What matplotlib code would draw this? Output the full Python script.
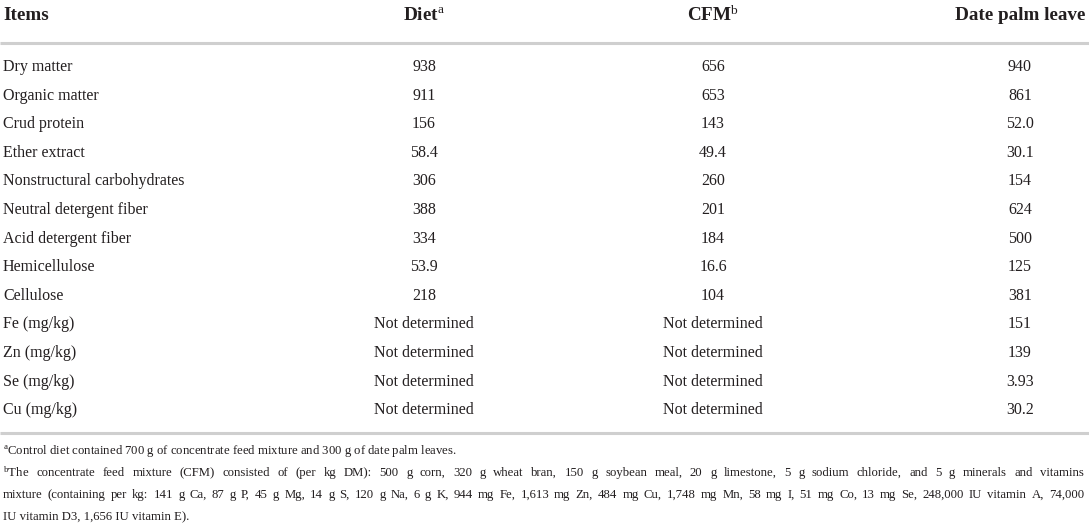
import matplotlib
matplotlib.use("Agg")
import matplotlib.pyplot as plt

plt.rcParams['font.family'] = ['Liberation Serif', 'DejaVu Serif']
plt.rcParams['mathtext.fontset'] = 'custom'
plt.rcParams['mathtext.rm'] = 'Liberation Serif'
plt.rcParams['mathtext.it'] = 'Liberation Serif:italic'
plt.rcParams['mathtext.bf'] = 'Liberation Serif:bold'

# table content
headers = ["Items", r"Diet$^{\mathrm{a}}$", r"CFM$^{\mathrm{b}}$", "Date palm leave"]
items = ["Dry matter", "Organic matter", "Crud protein", "Ether extract",
         "Nonstructural carbohydrates", "Neutral detergent fiber",
         "Acid detergent fiber", "Hemicellulose", "Cellulose",
         "Fe (mg/kg)", "Zn (mg/kg)", "Se (mg/kg)", "Cu (mg/kg)"]
nd = "Not determined"
diet = ["938", "911", "156", "58.4", "306", "388", "334", "53.9", "218", nd, nd, nd, nd]
cfm = ["656", "653", "143", "49.4", "260", "201", "184", "16.6", "104", nd, nd, nd, nd]
date_palm = ["940", "861", "52.0", "30.1", "154", "624", "500", "125", "381",
             "151", "139", "3.93", "30.2"]
footnotes = [
    r"$^{\mathrm{a}}$Control diet contained 700 g of concentrate feed mixture and 300 g of date palm leaves.",
    r"$^{\mathrm{b}}$The concentrate feed mixture (CFM) consisted of (per kg DM): 500 g corn, 320 g wheat bran, "
    "150 g soybean meal, 20 g limestone, 5 g sodium chloride, and 5 g minerals and vitamins",
    "mixture (containing per kg: 141 g Ca, 87 g P, 45 g Mg, 14 g S, 120 g Na, 6 g K, 944 mg Fe, 1,613 mg Zn, "
    "484 mg Cu, 1,748 mg Mn, 58 mg I, 51 mg Co, 13 mg Se, 248,000 IU vitamin A, 74,000",
    "IU vitamin D3, 1,656 IU vitamin E).",
]
justified = [False, True, True, False]

W, H = 1089, 524
fig = plt.figure(figsize=(W / 100, H / 100), dpi=100)
ax = fig.add_axes([0, 0, 1, 1])
ax.set_xlim(0, W)
ax.set_ylim(H, 0)
ax.axis("off")

ink = "#231f20"
rule = "#cfcfcf"
col_x = [3, 424, 713, 1020]
row_y0, row_dy = 67, 28.6
fs_body = 11.5
fs_head = 13.8
fs_foot = 9.2

ax.text(col_x[0], 15, headers[0], fontsize=fs_head, fontweight="bold", color=ink, va="center", ha="left")
for x, h in zip(col_x[1:], headers[1:]):
    ax.text(x, 15, h, fontsize=fs_head, fontweight="bold", color=ink, va="center", ha="center")

ax.plot([0, W], [43, 43], color=rule, lw=2.2, solid_capstyle="butt")

for i, name in enumerate(items):
    y = row_y0 + i * row_dy
    ax.text(col_x[0], y, name, fontsize=fs_body, color=ink, va="center", ha="left")
    for x, vals in zip(col_x[1:], [diet, cfm, date_palm]):
        ax.text(x, y, vals[i], fontsize=fs_body, color=ink, va="center", ha="center")

ax.plot([0, W], [433, 433], color=rule, lw=2.2, solid_capstyle="butt")

# footnotes, the long lines justified like the journal layout
fig.canvas.draw()
renderer = fig.canvas.get_renderer()
left, right = 3, 1084
for i, line in enumerate(footnotes):
    y = 451 + i * 22
    if not justified[i]:
        ax.text(left, y, line, fontsize=fs_foot, color=ink, va="center", ha="left")
        continue
    words = line.split(" ")
    arts = [ax.text(0, y, w, fontsize=fs_foot, color=ink, va="center", ha="left") for w in words]
    widths = [a.get_window_extent(renderer).width for a in arts]
    gap = (right - left - sum(widths)) / (len(words) - 1)
    x = left
    for a, w in zip(arts, widths):
        a.set_x(x)
        x += w + gap

fig.savefig("out.png", dpi=100, facecolor="white")
